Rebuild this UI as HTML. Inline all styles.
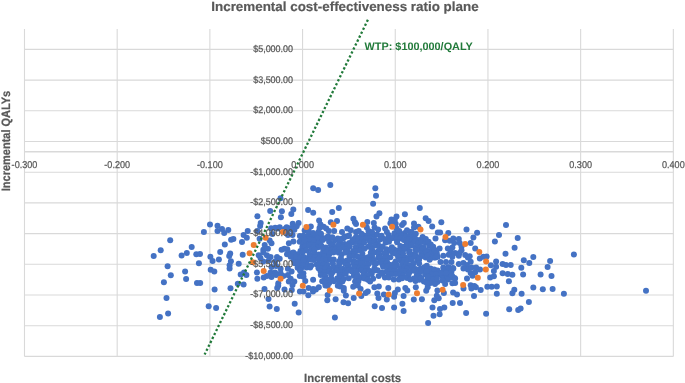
<!DOCTYPE html><html><head><meta charset="utf-8"><style>html,body{margin:0;padding:0;background:#fff;overflow:hidden}svg{display:block;will-change:transform;text-rendering:geometricPrecision}</style></head><body><svg width="685" height="383" viewBox="0 0 685 383">
<rect width="685" height="383" fill="#fff"/>
<line x1="24.50" y1="29.0" x2="24.50" y2="356.4" stroke="#D9D9D9" stroke-width="1.1"/>
<line x1="117.19" y1="29.0" x2="117.19" y2="356.4" stroke="#D9D9D9" stroke-width="1.1"/>
<line x1="209.88" y1="29.0" x2="209.88" y2="356.4" stroke="#D9D9D9" stroke-width="1.1"/>
<line x1="302.57" y1="29.0" x2="302.57" y2="356.4" stroke="#D9D9D9" stroke-width="1.1"/>
<line x1="395.26" y1="29.0" x2="395.26" y2="356.4" stroke="#D9D9D9" stroke-width="1.1"/>
<line x1="487.95" y1="29.0" x2="487.95" y2="356.4" stroke="#D9D9D9" stroke-width="1.1"/>
<line x1="580.64" y1="29.0" x2="580.64" y2="356.4" stroke="#D9D9D9" stroke-width="1.1"/>
<line x1="673.33" y1="29.0" x2="673.33" y2="356.4" stroke="#D9D9D9" stroke-width="1.1"/>
<line x1="24.5" y1="49.40" x2="673.33" y2="49.40" stroke="#D9D9D9" stroke-width="1.1"/>
<line x1="24.5" y1="80.10" x2="673.33" y2="80.10" stroke="#D9D9D9" stroke-width="1.1"/>
<line x1="24.5" y1="110.80" x2="673.33" y2="110.80" stroke="#D9D9D9" stroke-width="1.1"/>
<line x1="24.5" y1="141.50" x2="673.33" y2="141.50" stroke="#D9D9D9" stroke-width="1.1"/>
<line x1="24.5" y1="172.20" x2="673.33" y2="172.20" stroke="#D9D9D9" stroke-width="1.1"/>
<line x1="24.5" y1="202.90" x2="673.33" y2="202.90" stroke="#D9D9D9" stroke-width="1.1"/>
<line x1="24.5" y1="233.60" x2="673.33" y2="233.60" stroke="#D9D9D9" stroke-width="1.1"/>
<line x1="24.5" y1="264.30" x2="673.33" y2="264.30" stroke="#D9D9D9" stroke-width="1.1"/>
<line x1="24.5" y1="295.00" x2="673.33" y2="295.00" stroke="#D9D9D9" stroke-width="1.1"/>
<line x1="24.5" y1="325.70" x2="673.33" y2="325.70" stroke="#D9D9D9" stroke-width="1.1"/>
<line x1="24.5" y1="356.40" x2="673.33" y2="356.40" stroke="#D9D9D9" stroke-width="1.1"/>
<line x1="24.5" y1="151.73" x2="673.33" y2="151.73" stroke="#D9D9D9" stroke-width="1.7"/>
<g fill="#4472C4">
<circle cx="394.5" cy="233.3" r="3.0"/>
<circle cx="399.9" cy="233.2" r="3.0"/>
<circle cx="404.8" cy="232.9" r="3.0"/>
<circle cx="411.5" cy="232.3" r="3.0"/>
<circle cx="303.5" cy="235.8" r="3.0"/>
<circle cx="308.5" cy="235.6" r="3.0"/>
<circle cx="311.7" cy="235.7" r="3.0"/>
<circle cx="315.6" cy="235.8" r="3.0"/>
<circle cx="320.9" cy="236.2" r="3.0"/>
<circle cx="328.2" cy="236.8" r="3.0"/>
<circle cx="344.9" cy="236.4" r="3.0"/>
<circle cx="347.7" cy="236.2" r="3.0"/>
<circle cx="356.1" cy="236.8" r="3.0"/>
<circle cx="360.8" cy="236.9" r="3.0"/>
<circle cx="364.1" cy="235.5" r="3.0"/>
<circle cx="368.7" cy="235.0" r="3.0"/>
<circle cx="373.7" cy="234.5" r="3.0"/>
<circle cx="377.1" cy="234.5" r="3.0"/>
<circle cx="381.6" cy="235.7" r="3.0"/>
<circle cx="388.6" cy="235.1" r="3.0"/>
<circle cx="394.3" cy="235.2" r="3.0"/>
<circle cx="397.6" cy="236.7" r="3.0"/>
<circle cx="401.3" cy="234.9" r="3.0"/>
<circle cx="406.1" cy="236.2" r="3.0"/>
<circle cx="409.0" cy="236.2" r="3.0"/>
<circle cx="413.1" cy="236.8" r="3.0"/>
<circle cx="301.3" cy="240.3" r="3.0"/>
<circle cx="306.3" cy="239.1" r="3.0"/>
<circle cx="310.4" cy="239.0" r="3.0"/>
<circle cx="314.2" cy="240.4" r="3.0"/>
<circle cx="318.6" cy="239.8" r="3.0"/>
<circle cx="321.7" cy="238.9" r="3.0"/>
<circle cx="325.1" cy="238.2" r="3.0"/>
<circle cx="329.5" cy="238.5" r="3.0"/>
<circle cx="335.0" cy="240.2" r="3.0"/>
<circle cx="337.8" cy="238.6" r="3.0"/>
<circle cx="342.3" cy="238.4" r="3.0"/>
<circle cx="354.2" cy="238.9" r="3.0"/>
<circle cx="358.5" cy="239.2" r="3.0"/>
<circle cx="362.2" cy="239.3" r="3.0"/>
<circle cx="366.4" cy="238.3" r="3.0"/>
<circle cx="370.0" cy="238.1" r="3.0"/>
<circle cx="374.6" cy="239.5" r="3.0"/>
<circle cx="379.9" cy="239.6" r="3.0"/>
<circle cx="384.3" cy="239.0" r="3.0"/>
<circle cx="388.7" cy="238.4" r="3.0"/>
<circle cx="391.9" cy="238.2" r="3.0"/>
<circle cx="396.6" cy="239.6" r="3.0"/>
<circle cx="400.5" cy="238.4" r="3.0"/>
<circle cx="403.9" cy="240.1" r="3.0"/>
<circle cx="408.8" cy="239.5" r="3.0"/>
<circle cx="412.5" cy="239.7" r="3.0"/>
<circle cx="415.1" cy="238.4" r="3.0"/>
<circle cx="419.4" cy="240.1" r="3.0"/>
<circle cx="424.7" cy="239.6" r="3.0"/>
<circle cx="299.7" cy="241.8" r="3.0"/>
<circle cx="302.9" cy="243.4" r="3.0"/>
<circle cx="307.7" cy="241.7" r="3.0"/>
<circle cx="311.1" cy="243.2" r="3.0"/>
<circle cx="316.2" cy="242.3" r="3.0"/>
<circle cx="319.8" cy="242.8" r="3.0"/>
<circle cx="329.1" cy="241.7" r="3.0"/>
<circle cx="332.9" cy="244.0" r="3.0"/>
<circle cx="339.7" cy="243.0" r="3.0"/>
<circle cx="344.5" cy="243.9" r="3.0"/>
<circle cx="349.3" cy="242.9" r="3.0"/>
<circle cx="353.1" cy="242.2" r="3.0"/>
<circle cx="356.7" cy="241.7" r="3.0"/>
<circle cx="360.8" cy="242.7" r="3.0"/>
<circle cx="364.1" cy="242.5" r="3.0"/>
<circle cx="369.9" cy="241.6" r="3.0"/>
<circle cx="374.0" cy="241.9" r="3.0"/>
<circle cx="377.8" cy="243.8" r="3.0"/>
<circle cx="385.7" cy="242.5" r="3.0"/>
<circle cx="389.0" cy="241.8" r="3.0"/>
<circle cx="397.1" cy="242.3" r="3.0"/>
<circle cx="406.9" cy="243.6" r="3.0"/>
<circle cx="411.0" cy="243.9" r="3.0"/>
<circle cx="414.7" cy="241.8" r="3.0"/>
<circle cx="418.1" cy="243.4" r="3.0"/>
<circle cx="421.8" cy="241.8" r="3.0"/>
<circle cx="425.6" cy="242.8" r="3.0"/>
<circle cx="302.3" cy="247.0" r="3.0"/>
<circle cx="305.3" cy="246.5" r="3.0"/>
<circle cx="309.2" cy="245.4" r="3.0"/>
<circle cx="314.8" cy="245.5" r="3.0"/>
<circle cx="318.1" cy="247.3" r="3.0"/>
<circle cx="321.4" cy="245.8" r="3.0"/>
<circle cx="325.9" cy="247.5" r="3.0"/>
<circle cx="331.0" cy="245.3" r="3.0"/>
<circle cx="334.7" cy="247.4" r="3.0"/>
<circle cx="338.5" cy="245.2" r="3.0"/>
<circle cx="343.4" cy="247.2" r="3.0"/>
<circle cx="347.6" cy="245.8" r="3.0"/>
<circle cx="349.8" cy="246.5" r="3.0"/>
<circle cx="355.8" cy="246.9" r="3.0"/>
<circle cx="359.4" cy="246.3" r="3.0"/>
<circle cx="361.8" cy="247.1" r="3.0"/>
<circle cx="368.0" cy="246.8" r="3.0"/>
<circle cx="370.2" cy="245.8" r="3.0"/>
<circle cx="375.7" cy="245.5" r="3.0"/>
<circle cx="379.4" cy="246.6" r="3.0"/>
<circle cx="382.7" cy="246.6" r="3.0"/>
<circle cx="391.9" cy="247.3" r="3.0"/>
<circle cx="400.3" cy="245.9" r="3.0"/>
<circle cx="403.9" cy="246.8" r="3.0"/>
<circle cx="407.4" cy="246.8" r="3.0"/>
<circle cx="411.4" cy="245.3" r="3.0"/>
<circle cx="416.0" cy="246.8" r="3.0"/>
<circle cx="421.0" cy="247.0" r="3.0"/>
<circle cx="423.7" cy="247.5" r="3.0"/>
<circle cx="429.3" cy="245.8" r="3.0"/>
<circle cx="300.5" cy="251.0" r="3.0"/>
<circle cx="302.7" cy="251.0" r="3.0"/>
<circle cx="306.4" cy="250.4" r="3.0"/>
<circle cx="311.3" cy="249.6" r="3.0"/>
<circle cx="314.6" cy="249.4" r="3.0"/>
<circle cx="323.2" cy="249.6" r="3.0"/>
<circle cx="328.8" cy="249.8" r="3.0"/>
<circle cx="332.1" cy="249.7" r="3.0"/>
<circle cx="335.5" cy="249.6" r="3.0"/>
<circle cx="339.2" cy="249.8" r="3.0"/>
<circle cx="345.1" cy="248.9" r="3.0"/>
<circle cx="347.5" cy="251.0" r="3.0"/>
<circle cx="353.2" cy="250.9" r="3.0"/>
<circle cx="356.2" cy="251.1" r="3.0"/>
<circle cx="360.3" cy="250.5" r="3.0"/>
<circle cx="364.4" cy="248.8" r="3.0"/>
<circle cx="372.0" cy="249.3" r="3.0"/>
<circle cx="378.3" cy="251.1" r="3.0"/>
<circle cx="380.8" cy="249.8" r="3.0"/>
<circle cx="386.5" cy="249.2" r="3.0"/>
<circle cx="390.1" cy="250.7" r="3.0"/>
<circle cx="393.9" cy="249.6" r="3.0"/>
<circle cx="397.4" cy="250.6" r="3.0"/>
<circle cx="401.1" cy="250.6" r="3.0"/>
<circle cx="404.9" cy="248.9" r="3.0"/>
<circle cx="409.6" cy="251.1" r="3.0"/>
<circle cx="415.3" cy="249.4" r="3.0"/>
<circle cx="417.3" cy="250.0" r="3.0"/>
<circle cx="422.2" cy="249.3" r="3.0"/>
<circle cx="426.7" cy="250.4" r="3.0"/>
<circle cx="431.4" cy="250.4" r="3.0"/>
<circle cx="297.2" cy="254.3" r="3.0"/>
<circle cx="302.4" cy="252.4" r="3.0"/>
<circle cx="309.8" cy="254.6" r="3.0"/>
<circle cx="314.6" cy="253.4" r="3.0"/>
<circle cx="318.5" cy="254.6" r="3.0"/>
<circle cx="322.1" cy="253.8" r="3.0"/>
<circle cx="325.7" cy="252.7" r="3.0"/>
<circle cx="329.5" cy="253.8" r="3.0"/>
<circle cx="333.5" cy="252.4" r="3.0"/>
<circle cx="338.7" cy="252.8" r="3.0"/>
<circle cx="341.7" cy="254.2" r="3.0"/>
<circle cx="345.5" cy="252.6" r="3.0"/>
<circle cx="350.7" cy="253.9" r="3.0"/>
<circle cx="353.9" cy="254.0" r="3.0"/>
<circle cx="362.4" cy="253.7" r="3.0"/>
<circle cx="370.8" cy="252.8" r="3.0"/>
<circle cx="374.5" cy="252.4" r="3.0"/>
<circle cx="379.1" cy="254.3" r="3.0"/>
<circle cx="384.3" cy="253.4" r="3.0"/>
<circle cx="386.3" cy="253.7" r="3.0"/>
<circle cx="392.6" cy="252.5" r="3.0"/>
<circle cx="395.4" cy="253.5" r="3.0"/>
<circle cx="399.3" cy="253.6" r="3.0"/>
<circle cx="403.0" cy="253.5" r="3.0"/>
<circle cx="409.1" cy="252.8" r="3.0"/>
<circle cx="413.2" cy="254.7" r="3.0"/>
<circle cx="415.1" cy="254.6" r="3.0"/>
<circle cx="421.3" cy="253.8" r="3.0"/>
<circle cx="423.6" cy="254.2" r="3.0"/>
<circle cx="428.3" cy="254.4" r="3.0"/>
<circle cx="431.8" cy="252.9" r="3.0"/>
<circle cx="436.7" cy="253.3" r="3.0"/>
<circle cx="295.4" cy="256.9" r="3.0"/>
<circle cx="299.2" cy="257.0" r="3.0"/>
<circle cx="303.7" cy="257.1" r="3.0"/>
<circle cx="308.2" cy="257.8" r="3.0"/>
<circle cx="310.9" cy="257.0" r="3.0"/>
<circle cx="314.9" cy="256.9" r="3.0"/>
<circle cx="319.7" cy="257.1" r="3.0"/>
<circle cx="324.3" cy="256.1" r="3.0"/>
<circle cx="328.7" cy="257.1" r="3.0"/>
<circle cx="340.9" cy="257.9" r="3.0"/>
<circle cx="349.5" cy="256.3" r="3.0"/>
<circle cx="353.7" cy="256.1" r="3.0"/>
<circle cx="357.4" cy="256.3" r="3.0"/>
<circle cx="360.3" cy="257.9" r="3.0"/>
<circle cx="365.0" cy="258.1" r="3.0"/>
<circle cx="368.5" cy="257.1" r="3.0"/>
<circle cx="372.0" cy="256.3" r="3.0"/>
<circle cx="378.3" cy="257.5" r="3.0"/>
<circle cx="380.6" cy="257.8" r="3.0"/>
<circle cx="385.5" cy="257.4" r="3.0"/>
<circle cx="390.4" cy="257.2" r="3.0"/>
<circle cx="398.1" cy="256.8" r="3.0"/>
<circle cx="401.3" cy="258.3" r="3.0"/>
<circle cx="405.6" cy="257.7" r="3.0"/>
<circle cx="409.3" cy="257.7" r="3.0"/>
<circle cx="414.9" cy="256.5" r="3.0"/>
<circle cx="419.4" cy="257.3" r="3.0"/>
<circle cx="421.9" cy="255.9" r="3.0"/>
<circle cx="425.6" cy="257.4" r="3.0"/>
<circle cx="430.6" cy="258.1" r="3.0"/>
<circle cx="434.0" cy="257.5" r="3.0"/>
<circle cx="437.6" cy="256.8" r="3.0"/>
<circle cx="293.9" cy="260.4" r="3.0"/>
<circle cx="296.1" cy="261.0" r="3.0"/>
<circle cx="301.0" cy="261.0" r="3.0"/>
<circle cx="306.5" cy="261.2" r="3.0"/>
<circle cx="310.6" cy="259.6" r="3.0"/>
<circle cx="313.5" cy="260.0" r="3.0"/>
<circle cx="318.5" cy="259.5" r="3.0"/>
<circle cx="323.0" cy="259.8" r="3.0"/>
<circle cx="326.3" cy="260.7" r="3.0"/>
<circle cx="330.9" cy="259.9" r="3.0"/>
<circle cx="333.7" cy="259.6" r="3.0"/>
<circle cx="339.0" cy="261.2" r="3.0"/>
<circle cx="343.2" cy="261.3" r="3.0"/>
<circle cx="347.1" cy="260.6" r="3.0"/>
<circle cx="349.7" cy="260.0" r="3.0"/>
<circle cx="354.3" cy="261.3" r="3.0"/>
<circle cx="359.6" cy="261.2" r="3.0"/>
<circle cx="363.0" cy="260.5" r="3.0"/>
<circle cx="367.1" cy="260.1" r="3.0"/>
<circle cx="372.2" cy="260.0" r="3.0"/>
<circle cx="374.0" cy="260.1" r="3.0"/>
<circle cx="379.9" cy="261.7" r="3.0"/>
<circle cx="383.0" cy="261.6" r="3.0"/>
<circle cx="386.9" cy="261.6" r="3.0"/>
<circle cx="395.6" cy="261.5" r="3.0"/>
<circle cx="400.7" cy="260.5" r="3.0"/>
<circle cx="404.1" cy="260.2" r="3.0"/>
<circle cx="408.3" cy="259.7" r="3.0"/>
<circle cx="411.2" cy="259.5" r="3.0"/>
<circle cx="417.2" cy="260.3" r="3.0"/>
<circle cx="419.2" cy="259.6" r="3.0"/>
<circle cx="294.7" cy="263.3" r="3.0"/>
<circle cx="300.0" cy="263.5" r="3.0"/>
<circle cx="303.3" cy="263.1" r="3.0"/>
<circle cx="307.0" cy="264.8" r="3.0"/>
<circle cx="311.2" cy="265.4" r="3.0"/>
<circle cx="316.6" cy="264.5" r="3.0"/>
<circle cx="319.6" cy="264.1" r="3.0"/>
<circle cx="323.6" cy="264.7" r="3.0"/>
<circle cx="327.4" cy="265.1" r="3.0"/>
<circle cx="332.9" cy="263.4" r="3.0"/>
<circle cx="339.2" cy="264.2" r="3.0"/>
<circle cx="345.2" cy="263.5" r="3.0"/>
<circle cx="348.2" cy="265.0" r="3.0"/>
<circle cx="353.7" cy="263.7" r="3.0"/>
<circle cx="357.2" cy="264.2" r="3.0"/>
<circle cx="361.2" cy="263.2" r="3.0"/>
<circle cx="365.4" cy="264.9" r="3.0"/>
<circle cx="368.7" cy="264.0" r="3.0"/>
<circle cx="374.1" cy="263.2" r="3.0"/>
<circle cx="376.1" cy="263.5" r="3.0"/>
<circle cx="382.3" cy="264.2" r="3.0"/>
<circle cx="386.4" cy="263.6" r="3.0"/>
<circle cx="389.6" cy="264.8" r="3.0"/>
<circle cx="394.0" cy="263.9" r="3.0"/>
<circle cx="396.9" cy="265.1" r="3.0"/>
<circle cx="402.4" cy="263.4" r="3.0"/>
<circle cx="406.6" cy="264.4" r="3.0"/>
<circle cx="410.0" cy="265.2" r="3.0"/>
<circle cx="413.4" cy="263.8" r="3.0"/>
<circle cx="419.1" cy="263.4" r="3.0"/>
<circle cx="297.6" cy="267.7" r="3.0"/>
<circle cx="301.6" cy="267.6" r="3.0"/>
<circle cx="306.5" cy="267.6" r="3.0"/>
<circle cx="310.2" cy="267.6" r="3.0"/>
<circle cx="318.5" cy="268.3" r="3.0"/>
<circle cx="322.3" cy="268.1" r="3.0"/>
<circle cx="325.6" cy="268.1" r="3.0"/>
<circle cx="329.9" cy="268.5" r="3.0"/>
<circle cx="334.5" cy="267.2" r="3.0"/>
<circle cx="338.2" cy="268.1" r="3.0"/>
<circle cx="342.8" cy="268.8" r="3.0"/>
<circle cx="346.9" cy="268.5" r="3.0"/>
<circle cx="350.6" cy="268.9" r="3.0"/>
<circle cx="354.8" cy="267.0" r="3.0"/>
<circle cx="359.9" cy="267.9" r="3.0"/>
<circle cx="363.1" cy="267.9" r="3.0"/>
<circle cx="367.0" cy="268.1" r="3.0"/>
<circle cx="374.5" cy="268.2" r="3.0"/>
<circle cx="383.1" cy="266.7" r="3.0"/>
<circle cx="387.3" cy="266.6" r="3.0"/>
<circle cx="391.4" cy="268.3" r="3.0"/>
<circle cx="395.1" cy="267.1" r="3.0"/>
<circle cx="400.9" cy="267.9" r="3.0"/>
<circle cx="404.6" cy="267.5" r="3.0"/>
<circle cx="407.1" cy="268.5" r="3.0"/>
<circle cx="412.4" cy="267.7" r="3.0"/>
<circle cx="415.5" cy="268.9" r="3.0"/>
<circle cx="420.6" cy="268.6" r="3.0"/>
<circle cx="424.3" cy="267.3" r="3.0"/>
<circle cx="427.6" cy="268.6" r="3.0"/>
<circle cx="443.7" cy="268.3" r="3.0"/>
<circle cx="448.4" cy="267.3" r="3.0"/>
<circle cx="452.9" cy="268.1" r="3.0"/>
<circle cx="320.5" cy="271.0" r="3.0"/>
<circle cx="324.9" cy="272.1" r="3.0"/>
<circle cx="329.0" cy="271.6" r="3.0"/>
<circle cx="332.6" cy="272.3" r="3.0"/>
<circle cx="337.1" cy="270.6" r="3.0"/>
<circle cx="340.4" cy="272.0" r="3.0"/>
<circle cx="345.4" cy="271.5" r="3.0"/>
<circle cx="347.9" cy="270.5" r="3.0"/>
<circle cx="351.6" cy="271.3" r="3.0"/>
<circle cx="356.7" cy="271.4" r="3.0"/>
<circle cx="361.7" cy="270.2" r="3.0"/>
<circle cx="364.9" cy="271.5" r="3.0"/>
<circle cx="369.9" cy="271.1" r="3.0"/>
<circle cx="374.3" cy="270.4" r="3.0"/>
<circle cx="377.6" cy="270.2" r="3.0"/>
<circle cx="381.8" cy="272.4" r="3.0"/>
<circle cx="386.6" cy="271.4" r="3.0"/>
<circle cx="390.5" cy="270.3" r="3.0"/>
<circle cx="394.0" cy="271.0" r="3.0"/>
<circle cx="397.4" cy="271.3" r="3.0"/>
<circle cx="402.5" cy="270.7" r="3.0"/>
<circle cx="405.8" cy="271.5" r="3.0"/>
<circle cx="409.6" cy="272.2" r="3.0"/>
<circle cx="414.2" cy="270.8" r="3.0"/>
<circle cx="419.4" cy="271.7" r="3.0"/>
<circle cx="421.9" cy="270.9" r="3.0"/>
<circle cx="426.7" cy="271.7" r="3.0"/>
<circle cx="429.4" cy="271.9" r="3.0"/>
<circle cx="434.8" cy="270.3" r="3.0"/>
<circle cx="437.6" cy="270.6" r="3.0"/>
<circle cx="443.1" cy="271.8" r="3.0"/>
<circle cx="447.9" cy="271.6" r="3.0"/>
<circle cx="451.4" cy="271.8" r="3.0"/>
<circle cx="320.8" cy="275.1" r="3.0"/>
<circle cx="325.1" cy="275.7" r="3.0"/>
<circle cx="331.1" cy="274.8" r="3.0"/>
<circle cx="339.5" cy="274.9" r="3.0"/>
<circle cx="341.4" cy="275.3" r="3.0"/>
<circle cx="345.7" cy="273.8" r="3.0"/>
<circle cx="353.7" cy="275.8" r="3.0"/>
<circle cx="357.6" cy="275.5" r="3.0"/>
<circle cx="363.5" cy="274.2" r="3.0"/>
<circle cx="367.7" cy="275.5" r="3.0"/>
<circle cx="371.7" cy="273.9" r="3.0"/>
<circle cx="378.7" cy="276.1" r="3.0"/>
<circle cx="382.2" cy="273.8" r="3.0"/>
<circle cx="388.3" cy="273.9" r="3.0"/>
<circle cx="392.2" cy="274.1" r="3.0"/>
<circle cx="395.7" cy="273.9" r="3.0"/>
<circle cx="400.0" cy="274.8" r="3.0"/>
<circle cx="403.0" cy="275.7" r="3.0"/>
<circle cx="408.3" cy="275.2" r="3.0"/>
<circle cx="416.9" cy="275.1" r="3.0"/>
<circle cx="419.2" cy="276.1" r="3.0"/>
<circle cx="425.2" cy="274.5" r="3.0"/>
<circle cx="429.6" cy="275.7" r="3.0"/>
<circle cx="432.1" cy="274.8" r="3.0"/>
<circle cx="436.4" cy="275.4" r="3.0"/>
<circle cx="441.8" cy="275.7" r="3.0"/>
<circle cx="443.7" cy="274.4" r="3.0"/>
<circle cx="449.2" cy="275.7" r="3.0"/>
<circle cx="452.0" cy="275.7" r="3.0"/>
<circle cx="324.6" cy="279.2" r="3.0"/>
<circle cx="327.1" cy="279.2" r="3.0"/>
<circle cx="331.5" cy="278.7" r="3.0"/>
<circle cx="337.2" cy="278.6" r="3.0"/>
<circle cx="340.6" cy="277.8" r="3.0"/>
<circle cx="343.7" cy="279.0" r="3.0"/>
<circle cx="348.7" cy="278.3" r="3.0"/>
<circle cx="356.4" cy="277.6" r="3.0"/>
<circle cx="361.5" cy="277.7" r="3.0"/>
<circle cx="364.6" cy="278.6" r="3.0"/>
<circle cx="367.9" cy="279.7" r="3.0"/>
<circle cx="373.1" cy="278.7" r="3.0"/>
<circle cx="384.9" cy="277.4" r="3.0"/>
<circle cx="388.8" cy="277.5" r="3.0"/>
<circle cx="393.8" cy="279.4" r="3.0"/>
<circle cx="398.8" cy="279.5" r="3.0"/>
<circle cx="402.1" cy="278.3" r="3.0"/>
<circle cx="407.1" cy="277.9" r="3.0"/>
<circle cx="410.4" cy="279.6" r="3.0"/>
<circle cx="413.9" cy="278.4" r="3.0"/>
<circle cx="419.4" cy="279.7" r="3.0"/>
<circle cx="421.2" cy="277.9" r="3.0"/>
<circle cx="427.4" cy="279.5" r="3.0"/>
<circle cx="429.5" cy="279.2" r="3.0"/>
<circle cx="435.0" cy="279.7" r="3.0"/>
<circle cx="443.3" cy="278.0" r="3.0"/>
<circle cx="447.6" cy="277.6" r="3.0"/>
<circle cx="450.5" cy="277.6" r="3.0"/>
<circle cx="454.4" cy="277.9" r="3.0"/>
<circle cx="322.2" cy="281.2" r="3.0"/>
<circle cx="324.9" cy="282.6" r="3.0"/>
<circle cx="329.2" cy="283.0" r="3.0"/>
<circle cx="334.0" cy="281.2" r="3.0"/>
<circle cx="339.1" cy="281.7" r="3.0"/>
<circle cx="342.4" cy="281.6" r="3.0"/>
<circle cx="355.1" cy="281.4" r="3.0"/>
<circle cx="358.3" cy="281.5" r="3.0"/>
<circle cx="370.1" cy="281.6" r="3.0"/>
<circle cx="415.5" cy="281.1" r="3.0"/>
<circle cx="423.9" cy="281.4" r="3.0"/>
<circle cx="432.8" cy="281.4" r="3.0"/>
<circle cx="437.3" cy="281.9" r="3.0"/>
<circle cx="170.2" cy="240.2" r="3.0"/>
<circle cx="160.7" cy="250.2" r="3.0"/>
<circle cx="153.7" cy="256.1" r="3.0"/>
<circle cx="181.6" cy="255.5" r="3.0"/>
<circle cx="186.8" cy="253.1" r="3.0"/>
<circle cx="191.7" cy="247.0" r="3.0"/>
<circle cx="167.6" cy="266.2" r="3.0"/>
<circle cx="170.8" cy="275.2" r="3.0"/>
<circle cx="185.1" cy="271.5" r="3.0"/>
<circle cx="186.1" cy="279.1" r="3.0"/>
<circle cx="163.9" cy="282.3" r="3.0"/>
<circle cx="166.5" cy="297.9" r="3.0"/>
<circle cx="168.1" cy="313.4" r="3.0"/>
<circle cx="159.9" cy="316.9" r="3.0"/>
<circle cx="210.0" cy="224.4" r="3.0"/>
<circle cx="217.5" cy="225.7" r="3.0"/>
<circle cx="203.9" cy="232.1" r="3.0"/>
<circle cx="217.5" cy="231.1" r="3.0"/>
<circle cx="222.0" cy="229.1" r="3.0"/>
<circle cx="224.2" cy="232.9" r="3.0"/>
<circle cx="228.3" cy="229.9" r="3.0"/>
<circle cx="231.1" cy="239.7" r="3.0"/>
<circle cx="233.4" cy="238.9" r="3.0"/>
<circle cx="224.8" cy="244.4" r="3.0"/>
<circle cx="243.6" cy="235.0" r="3.0"/>
<circle cx="242.0" cy="242.0" r="3.0"/>
<circle cx="196.3" cy="254.2" r="3.0"/>
<circle cx="200.0" cy="253.9" r="3.0"/>
<circle cx="220.2" cy="251.9" r="3.0"/>
<circle cx="230.2" cy="253.5" r="3.0"/>
<circle cx="229.2" cy="256.1" r="3.0"/>
<circle cx="242.7" cy="254.8" r="3.0"/>
<circle cx="210.4" cy="256.8" r="3.0"/>
<circle cx="212.6" cy="261.1" r="3.0"/>
<circle cx="218.9" cy="259.4" r="3.0"/>
<circle cx="198.9" cy="263.3" r="3.0"/>
<circle cx="230.9" cy="261.3" r="3.0"/>
<circle cx="229.6" cy="265.2" r="3.0"/>
<circle cx="229.6" cy="268.5" r="3.0"/>
<circle cx="238.7" cy="263.7" r="3.0"/>
<circle cx="210.7" cy="269.8" r="3.0"/>
<circle cx="214.3" cy="271.5" r="3.0"/>
<circle cx="240.7" cy="274.4" r="3.0"/>
<circle cx="244.0" cy="272.4" r="3.0"/>
<circle cx="197.0" cy="283.1" r="3.0"/>
<circle cx="200.2" cy="283.1" r="3.0"/>
<circle cx="214.6" cy="289.6" r="3.0"/>
<circle cx="230.5" cy="288.3" r="3.0"/>
<circle cx="237.8" cy="283.7" r="3.0"/>
<circle cx="243.6" cy="284.6" r="3.0"/>
<circle cx="208.7" cy="306.3" r="3.0"/>
<circle cx="216.1" cy="307.9" r="3.0"/>
<circle cx="280.5" cy="198.3" r="3.0"/>
<circle cx="270.2" cy="210.9" r="3.0"/>
<circle cx="281.9" cy="211.3" r="3.0"/>
<circle cx="280.9" cy="217.2" r="3.0"/>
<circle cx="257.4" cy="216.3" r="3.0"/>
<circle cx="260.7" cy="223.1" r="3.0"/>
<circle cx="291.3" cy="213.9" r="3.0"/>
<circle cx="293.3" cy="209.4" r="3.0"/>
<circle cx="292.7" cy="223.7" r="3.0"/>
<circle cx="271.1" cy="228.3" r="3.0"/>
<circle cx="277.6" cy="228.6" r="3.0"/>
<circle cx="284.8" cy="229.0" r="3.0"/>
<circle cx="289.4" cy="228.3" r="3.0"/>
<circle cx="313.2" cy="188.3" r="3.0"/>
<circle cx="318.1" cy="189.9" r="3.0"/>
<circle cx="330.3" cy="185.1" r="3.0"/>
<circle cx="375.3" cy="188.3" r="3.0"/>
<circle cx="376.0" cy="195.8" r="3.0"/>
<circle cx="373.1" cy="203.8" r="3.0"/>
<circle cx="308.1" cy="209.9" r="3.0"/>
<circle cx="313.2" cy="212.8" r="3.0"/>
<circle cx="332.2" cy="212.1" r="3.0"/>
<circle cx="338.8" cy="208.0" r="3.0"/>
<circle cx="379.4" cy="213.3" r="3.0"/>
<circle cx="376.5" cy="216.5" r="3.0"/>
<circle cx="298.6" cy="223.1" r="3.0"/>
<circle cx="319.1" cy="220.6" r="3.0"/>
<circle cx="320.5" cy="224.5" r="3.0"/>
<circle cx="330.8" cy="222.3" r="3.0"/>
<circle cx="337.0" cy="220.9" r="3.0"/>
<circle cx="353.4" cy="218.7" r="3.0"/>
<circle cx="354.9" cy="222.3" r="3.0"/>
<circle cx="367.3" cy="222.0" r="3.0"/>
<circle cx="373.8" cy="223.1" r="3.0"/>
<circle cx="391.4" cy="219.4" r="3.0"/>
<circle cx="419.8" cy="208.0" r="3.0"/>
<circle cx="404.9" cy="214.3" r="3.0"/>
<circle cx="396.5" cy="216.5" r="3.0"/>
<circle cx="425.7" cy="218.2" r="3.0"/>
<circle cx="428.6" cy="220.9" r="3.0"/>
<circle cx="403.8" cy="223.1" r="3.0"/>
<circle cx="402.0" cy="225.0" r="3.0"/>
<circle cx="414.0" cy="223.5" r="3.0"/>
<circle cx="418.4" cy="226.7" r="3.0"/>
<circle cx="432.2" cy="226.4" r="3.0"/>
<circle cx="441.3" cy="222.3" r="3.0"/>
<circle cx="466.5" cy="229.6" r="3.0"/>
<circle cx="395.7" cy="223.8" r="3.0"/>
<circle cx="506.0" cy="224.9" r="3.0"/>
<circle cx="499.0" cy="235.1" r="3.0"/>
<circle cx="494.9" cy="241.6" r="3.0"/>
<circle cx="517.7" cy="237.9" r="3.0"/>
<circle cx="514.6" cy="247.8" r="3.0"/>
<circle cx="505.5" cy="253.7" r="3.0"/>
<circle cx="533.3" cy="257.0" r="3.0"/>
<circle cx="523.8" cy="260.3" r="3.0"/>
<circle cx="529.3" cy="262.9" r="3.0"/>
<circle cx="550.1" cy="261.0" r="3.0"/>
<circle cx="573.9" cy="254.4" r="3.0"/>
<circle cx="486.6" cy="256.6" r="3.0"/>
<circle cx="496.1" cy="261.4" r="3.0"/>
<circle cx="547.6" cy="267.0" r="3.0"/>
<circle cx="521.3" cy="267.7" r="3.0"/>
<circle cx="523.1" cy="274.4" r="3.0"/>
<circle cx="540.6" cy="274.4" r="3.0"/>
<circle cx="551.5" cy="275.9" r="3.0"/>
<circle cx="502.6" cy="264.1" r="3.0"/>
<circle cx="506.0" cy="264.9" r="3.0"/>
<circle cx="510.7" cy="264.9" r="3.0"/>
<circle cx="490.9" cy="265.2" r="3.0"/>
<circle cx="496.1" cy="266.7" r="3.0"/>
<circle cx="493.9" cy="271.1" r="3.0"/>
<circle cx="502.6" cy="273.2" r="3.0"/>
<circle cx="507.7" cy="274.0" r="3.0"/>
<circle cx="512.4" cy="274.7" r="3.0"/>
<circle cx="490.2" cy="277.6" r="3.0"/>
<circle cx="493.9" cy="276.2" r="3.0"/>
<circle cx="508.9" cy="281.3" r="3.0"/>
<circle cx="480.0" cy="269.6" r="3.0"/>
<circle cx="487.3" cy="286.8" r="3.0"/>
<circle cx="491.7" cy="286.8" r="3.0"/>
<circle cx="496.8" cy="286.4" r="3.0"/>
<circle cx="480.7" cy="290.0" r="3.0"/>
<circle cx="496.8" cy="293.7" r="3.0"/>
<circle cx="514.3" cy="289.7" r="3.0"/>
<circle cx="512.4" cy="293.2" r="3.0"/>
<circle cx="521.6" cy="293.7" r="3.0"/>
<circle cx="533.3" cy="287.4" r="3.0"/>
<circle cx="542.8" cy="289.3" r="3.0"/>
<circle cx="552.6" cy="288.9" r="3.0"/>
<circle cx="563.9" cy="293.7" r="3.0"/>
<circle cx="528.9" cy="302.0" r="3.0"/>
<circle cx="509.2" cy="309.2" r="3.0"/>
<circle cx="518.2" cy="309.9" r="3.0"/>
<circle cx="520.6" cy="308.4" r="3.0"/>
<circle cx="486.1" cy="313.7" r="3.0"/>
<circle cx="646.0" cy="290.8" r="3.0"/>
<circle cx="264.5" cy="289.1" r="3.0"/>
<circle cx="277.2" cy="287.9" r="3.0"/>
<circle cx="278.2" cy="285.7" r="3.0"/>
<circle cx="284.5" cy="289.4" r="3.0"/>
<circle cx="291.8" cy="290.1" r="3.0"/>
<circle cx="299.9" cy="291.6" r="3.0"/>
<circle cx="303.5" cy="291.6" r="3.0"/>
<circle cx="308.6" cy="287.9" r="3.0"/>
<circle cx="308.3" cy="295.2" r="3.0"/>
<circle cx="313.0" cy="291.6" r="3.0"/>
<circle cx="315.9" cy="289.4" r="3.0"/>
<circle cx="318.8" cy="287.2" r="3.0"/>
<circle cx="327.6" cy="285.7" r="3.0"/>
<circle cx="327.6" cy="294.9" r="3.0"/>
<circle cx="327.3" cy="300.3" r="3.0"/>
<circle cx="335.6" cy="299.3" r="3.0"/>
<circle cx="337.8" cy="285.7" r="3.0"/>
<circle cx="268.5" cy="298.9" r="3.0"/>
<circle cx="269.6" cy="306.6" r="3.0"/>
<circle cx="276.8" cy="309.1" r="3.0"/>
<circle cx="294.7" cy="303.7" r="3.0"/>
<circle cx="298.7" cy="312.4" r="3.0"/>
<circle cx="334.9" cy="317.4" r="3.0"/>
<circle cx="343.8" cy="290.8" r="3.0"/>
<circle cx="345.9" cy="295.5" r="3.0"/>
<circle cx="343.5" cy="302.2" r="3.0"/>
<circle cx="348.1" cy="303.2" r="3.0"/>
<circle cx="353.7" cy="298.1" r="3.0"/>
<circle cx="353.2" cy="286.8" r="3.0"/>
<circle cx="361.3" cy="295.9" r="3.0"/>
<circle cx="365.7" cy="293.0" r="3.0"/>
<circle cx="367.8" cy="291.6" r="3.0"/>
<circle cx="374.4" cy="287.2" r="3.0"/>
<circle cx="378.8" cy="286.5" r="3.0"/>
<circle cx="377.3" cy="293.5" r="3.0"/>
<circle cx="378.5" cy="298.1" r="3.0"/>
<circle cx="374.7" cy="306.2" r="3.0"/>
<circle cx="382.0" cy="308.1" r="3.0"/>
<circle cx="383.9" cy="294.5" r="3.0"/>
<circle cx="386.8" cy="299.6" r="3.0"/>
<circle cx="388.3" cy="287.9" r="3.0"/>
<circle cx="394.1" cy="296.7" r="3.0"/>
<circle cx="394.9" cy="293.0" r="3.0"/>
<circle cx="397.8" cy="289.4" r="3.0"/>
<circle cx="394.1" cy="307.6" r="3.0"/>
<circle cx="403.6" cy="295.9" r="3.0"/>
<circle cx="402.4" cy="303.7" r="3.0"/>
<circle cx="403.6" cy="311.0" r="3.0"/>
<circle cx="407.3" cy="290.5" r="3.0"/>
<circle cx="413.8" cy="299.6" r="3.0"/>
<circle cx="421.9" cy="299.3" r="3.0"/>
<circle cx="426.2" cy="290.8" r="3.0"/>
<circle cx="427.7" cy="287.2" r="3.0"/>
<circle cx="432.5" cy="307.6" r="3.0"/>
<circle cx="433.5" cy="315.7" r="3.0"/>
<circle cx="428.1" cy="323.0" r="3.0"/>
<circle cx="434.3" cy="300.3" r="3.0"/>
<circle cx="439.6" cy="314.2" r="3.0"/>
<circle cx="440.0" cy="309.0" r="3.0"/>
<circle cx="444.3" cy="307.4" r="3.0"/>
<circle cx="438.7" cy="298.3" r="3.0"/>
<circle cx="436.8" cy="295.7" r="3.0"/>
<circle cx="437.4" cy="290.4" r="3.0"/>
<circle cx="443.9" cy="293.1" r="3.0"/>
<circle cx="452.4" cy="283.3" r="3.0"/>
<circle cx="453.1" cy="292.4" r="3.0"/>
<circle cx="457.0" cy="294.6" r="3.0"/>
<circle cx="452.7" cy="302.9" r="3.0"/>
<circle cx="460.0" cy="302.9" r="3.0"/>
<circle cx="466.1" cy="312.9" r="3.0"/>
<circle cx="474.0" cy="295.9" r="3.0"/>
<circle cx="463.5" cy="288.5" r="3.0"/>
<circle cx="470.7" cy="285.2" r="3.0"/>
<circle cx="471.4" cy="288.5" r="3.0"/>
<circle cx="475.9" cy="287.2" r="3.0"/>
<circle cx="247.7" cy="230.9" r="3.0"/>
<circle cx="246.8" cy="237.8" r="3.0"/>
<circle cx="260.1" cy="225.9" r="3.0"/>
<circle cx="257.3" cy="230.9" r="3.0"/>
<circle cx="275.2" cy="227.7" r="3.0"/>
<circle cx="279.7" cy="227.3" r="3.0"/>
<circle cx="286.6" cy="227.3" r="3.0"/>
<circle cx="293.4" cy="226.8" r="3.0"/>
<circle cx="272.4" cy="234.1" r="3.0"/>
<circle cx="259.6" cy="238.7" r="3.0"/>
<circle cx="269.7" cy="240.5" r="3.0"/>
<circle cx="271.5" cy="243.3" r="3.0"/>
<circle cx="264.7" cy="245.1" r="3.0"/>
<circle cx="263.3" cy="249.7" r="3.0"/>
<circle cx="267.9" cy="248.8" r="3.0"/>
<circle cx="288.9" cy="243.3" r="3.0"/>
<circle cx="281.6" cy="249.7" r="3.0"/>
<circle cx="284.3" cy="248.8" r="3.0"/>
<circle cx="287.0" cy="254.3" r="3.0"/>
<circle cx="290.7" cy="253.3" r="3.0"/>
<circle cx="293.4" cy="252.4" r="3.0"/>
<circle cx="293.4" cy="241.5" r="3.0"/>
<circle cx="288.0" cy="235.1" r="3.0"/>
<circle cx="292.5" cy="235.1" r="3.0"/>
<circle cx="258.7" cy="255.2" r="3.0"/>
<circle cx="260.5" cy="257.9" r="3.0"/>
<circle cx="266.9" cy="255.2" r="3.0"/>
<circle cx="270.6" cy="257.0" r="3.0"/>
<circle cx="277.0" cy="257.0" r="3.0"/>
<circle cx="263.3" cy="252.4" r="3.0"/>
<circle cx="437.8" cy="232.5" r="3.0"/>
<circle cx="440.1" cy="232.5" r="3.0"/>
<circle cx="448.3" cy="233.0" r="3.0"/>
<circle cx="435.5" cy="238.4" r="3.0"/>
<circle cx="477.1" cy="232.8" r="3.0"/>
<circle cx="473.4" cy="237.5" r="3.0"/>
<circle cx="470.7" cy="243.0" r="3.0"/>
<circle cx="475.2" cy="248.5" r="3.0"/>
<circle cx="453.3" cy="238.4" r="3.0"/>
<circle cx="458.8" cy="238.9" r="3.0"/>
<circle cx="445.1" cy="240.3" r="3.0"/>
<circle cx="449.7" cy="240.7" r="3.0"/>
<circle cx="454.2" cy="243.0" r="3.0"/>
<circle cx="459.7" cy="243.0" r="3.0"/>
<circle cx="461.5" cy="246.7" r="3.0"/>
<circle cx="447.8" cy="248.5" r="3.0"/>
<circle cx="452.4" cy="247.6" r="3.0"/>
<circle cx="450.6" cy="251.2" r="3.0"/>
<circle cx="461.5" cy="250.3" r="3.0"/>
<circle cx="459.7" cy="253.1" r="3.0"/>
<circle cx="439.6" cy="248.5" r="3.0"/>
<circle cx="455.1" cy="253.1" r="3.0"/>
<circle cx="452.4" cy="254.0" r="3.0"/>
<circle cx="465.2" cy="254.9" r="3.0"/>
<circle cx="469.7" cy="256.2" r="3.0"/>
<circle cx="426.8" cy="252.1" r="3.0"/>
<circle cx="430.5" cy="254.0" r="3.0"/>
<circle cx="434.1" cy="253.1" r="3.0"/>
<circle cx="427.7" cy="255.7" r="3.0"/>
<circle cx="432.3" cy="256.7" r="3.0"/>
<circle cx="435.5" cy="257.6" r="3.0"/>
<circle cx="429.6" cy="259.8" r="3.0"/>
<circle cx="443.3" cy="255.7" r="3.0"/>
<circle cx="448.7" cy="254.8" r="3.0"/>
<circle cx="452.4" cy="256.7" r="3.0"/>
<circle cx="440.5" cy="262.1" r="3.0"/>
<circle cx="446.0" cy="262.1" r="3.0"/>
<circle cx="451.5" cy="262.1" r="3.0"/>
<circle cx="443.3" cy="267.6" r="3.0"/>
<circle cx="448.7" cy="267.6" r="3.0"/>
<circle cx="453.3" cy="268.5" r="3.0"/>
<circle cx="440.5" cy="273.1" r="3.0"/>
<circle cx="446.0" cy="273.1" r="3.0"/>
<circle cx="451.5" cy="275.8" r="3.0"/>
<circle cx="455.1" cy="278.6" r="3.0"/>
<circle cx="447.8" cy="279.5" r="3.0"/>
<circle cx="442.4" cy="280.4" r="3.0"/>
<circle cx="445.1" cy="284.1" r="3.0"/>
<circle cx="455.1" cy="283.1" r="3.0"/>
<circle cx="458.8" cy="255.7" r="3.0"/>
<circle cx="467.9" cy="257.6" r="3.0"/>
<circle cx="458.8" cy="264.0" r="3.0"/>
<circle cx="463.4" cy="263.0" r="3.0"/>
<circle cx="467.0" cy="264.9" r="3.0"/>
<circle cx="463.4" cy="268.5" r="3.0"/>
<circle cx="467.9" cy="269.4" r="3.0"/>
<circle cx="470.7" cy="261.7" r="3.0"/>
<circle cx="479.8" cy="258.5" r="3.0"/>
<circle cx="483.4" cy="256.7" r="3.0"/>
<circle cx="471.6" cy="267.6" r="3.0"/>
<circle cx="476.1" cy="267.6" r="3.0"/>
<circle cx="470.7" cy="273.1" r="3.0"/>
<circle cx="475.2" cy="272.2" r="3.0"/>
<circle cx="467.0" cy="278.6" r="3.0"/>
<circle cx="472.5" cy="275.8" r="3.0"/>
<circle cx="426.8" cy="265.8" r="3.0"/>
<circle cx="430.5" cy="268.5" r="3.0"/>
<circle cx="434.1" cy="269.4" r="3.0"/>
<circle cx="426.8" cy="271.3" r="3.0"/>
<circle cx="432.3" cy="274.0" r="3.0"/>
<circle cx="436.0" cy="274.0" r="3.0"/>
<circle cx="427.7" cy="276.7" r="3.0"/>
<circle cx="433.2" cy="279.5" r="3.0"/>
<circle cx="436.9" cy="278.6" r="3.0"/>
<circle cx="430.5" cy="283.1" r="3.0"/>
<circle cx="435.0" cy="284.1" r="3.0"/>
<circle cx="426.8" cy="283.1" r="3.0"/>
<circle cx="474.3" cy="285.9" r="3.0"/>
<circle cx="279.7" cy="258.7" r="3.0"/>
<circle cx="263.3" cy="261.4" r="3.0"/>
<circle cx="268.7" cy="260.5" r="3.0"/>
<circle cx="275.1" cy="261.4" r="3.0"/>
<circle cx="290.7" cy="256.8" r="3.0"/>
<circle cx="296.1" cy="256.8" r="3.0"/>
<circle cx="300.7" cy="257.7" r="3.0"/>
<circle cx="303.4" cy="260.5" r="3.0"/>
<circle cx="298.0" cy="262.3" r="3.0"/>
<circle cx="302.5" cy="265.0" r="3.0"/>
<circle cx="271.5" cy="266.9" r="3.0"/>
<circle cx="276.1" cy="266.0" r="3.0"/>
<circle cx="280.6" cy="268.7" r="3.0"/>
<circle cx="270.6" cy="272.4" r="3.0"/>
<circle cx="275.1" cy="272.4" r="3.0"/>
<circle cx="280.6" cy="273.3" r="3.0"/>
<circle cx="283.4" cy="276.0" r="3.0"/>
<circle cx="266.9" cy="276.0" r="3.0"/>
<circle cx="271.5" cy="276.9" r="3.0"/>
<circle cx="276.1" cy="275.1" r="3.0"/>
<circle cx="287.9" cy="268.7" r="3.0"/>
<circle cx="291.6" cy="271.4" r="3.0"/>
<circle cx="287.9" cy="275.1" r="3.0"/>
<circle cx="290.7" cy="278.7" r="3.0"/>
<circle cx="294.3" cy="281.5" r="3.0"/>
<circle cx="288.8" cy="281.5" r="3.0"/>
<circle cx="292.5" cy="285.1" r="3.0"/>
<circle cx="300.7" cy="268.7" r="3.0"/>
<circle cx="303.4" cy="273.3" r="3.0"/>
<circle cx="299.8" cy="276.0" r="3.0"/>
<circle cx="256.9" cy="272.4" r="3.0"/>
<circle cx="257.3" cy="278.7" r="3.0"/>
<circle cx="263.7" cy="277.4" r="3.0"/>
<circle cx="246.4" cy="275.1" r="3.0"/>
<circle cx="278.3" cy="283.3" r="3.0"/>
<circle cx="296.7" cy="226.2" r="3.0"/>
<circle cx="292.4" cy="229.7" r="3.0"/>
<circle cx="294.4" cy="229.7" r="3.0"/>
<circle cx="286.6" cy="232.0" r="3.0"/>
<circle cx="299.9" cy="236.0" r="3.0"/>
<circle cx="287.3" cy="249.3" r="3.0"/>
<circle cx="304.6" cy="230.5" r="3.0"/>
<circle cx="308.5" cy="229.7" r="3.0"/>
<circle cx="310.8" cy="226.6" r="3.0"/>
<circle cx="319.5" cy="228.1" r="3.0"/>
<circle cx="308.8" cy="232.0" r="3.0"/>
<circle cx="313.1" cy="232.9" r="3.0"/>
<circle cx="323.6" cy="226.8" r="3.0"/>
<circle cx="326.3" cy="228.5" r="3.0"/>
<circle cx="318.4" cy="232.0" r="3.0"/>
<circle cx="321.0" cy="233.8" r="3.0"/>
<circle cx="328.9" cy="231.1" r="3.0"/>
<circle cx="334.2" cy="231.1" r="3.0"/>
<circle cx="328.0" cy="236.4" r="3.0"/>
<circle cx="332.4" cy="237.3" r="3.0"/>
<circle cx="342.0" cy="232.0" r="3.0"/>
<circle cx="347.3" cy="228.5" r="3.0"/>
<circle cx="350.8" cy="230.3" r="3.0"/>
<circle cx="356.0" cy="224.1" r="3.0"/>
<circle cx="356.0" cy="232.0" r="3.0"/>
<circle cx="358.7" cy="231.1" r="3.0"/>
<circle cx="349.0" cy="235.5" r="3.0"/>
<circle cx="343.8" cy="238.1" r="3.0"/>
<circle cx="340.3" cy="239.9" r="3.0"/>
<circle cx="352.5" cy="239.9" r="3.0"/>
<circle cx="317.5" cy="238.1" r="3.0"/>
<circle cx="313.1" cy="239.9" r="3.0"/>
<circle cx="308.8" cy="239.0" r="3.0"/>
<circle cx="304.4" cy="239.9" r="3.0"/>
<circle cx="322.8" cy="239.9" r="3.0"/>
<circle cx="366.8" cy="227.6" r="3.0"/>
<circle cx="368.5" cy="231.1" r="3.0"/>
<circle cx="374.6" cy="227.6" r="3.0"/>
<circle cx="378.1" cy="229.4" r="3.0"/>
<circle cx="361.5" cy="233.8" r="3.0"/>
<circle cx="372.0" cy="232.0" r="3.0"/>
<circle cx="385.1" cy="228.5" r="3.0"/>
<circle cx="386.9" cy="232.0" r="3.0"/>
<circle cx="394.8" cy="219.8" r="3.0"/>
<circle cx="390.4" cy="223.3" r="3.0"/>
<circle cx="396.5" cy="228.5" r="3.0"/>
<circle cx="399.2" cy="231.1" r="3.0"/>
<circle cx="407.0" cy="230.3" r="3.0"/>
<circle cx="410.5" cy="232.0" r="3.0"/>
<circle cx="414.0" cy="227.6" r="3.0"/>
<circle cx="415.8" cy="233.8" r="3.0"/>
<circle cx="313.1" cy="279.8" r="3.0"/>
<circle cx="303.5" cy="276.8" r="3.0"/>
<circle cx="305.3" cy="281.1" r="3.0"/>
<circle cx="313.1" cy="289.0" r="3.0"/>
<circle cx="325.4" cy="285.5" r="3.0"/>
<circle cx="324.5" cy="282.0" r="3.0"/>
<circle cx="340.3" cy="286.4" r="3.0"/>
<circle cx="343.8" cy="288.1" r="3.0"/>
<circle cx="357.8" cy="285.5" r="3.0"/>
<circle cx="300.0" cy="270.6" r="3.0"/>
<circle cx="301.8" cy="275.0" r="3.0"/>
<circle cx="360.6" cy="289.0" r="3.0"/>
<circle cx="405.3" cy="288.1" r="3.0"/>
<circle cx="415.8" cy="287.3" r="3.0"/>
<circle cx="422.6" cy="237.0" r="3.0"/>
<circle cx="425.8" cy="239.0" r="3.0"/>
<circle cx="428.5" cy="241.7" r="3.0"/>
<circle cx="430.8" cy="244.4" r="3.0"/>
<circle cx="433.2" cy="246.8" r="3.0"/>
<circle cx="434.8" cy="249.9" r="3.0"/>
<circle cx="436.3" cy="253.1" r="3.0"/>
<circle cx="437.1" cy="256.2" r="3.0"/>
</g>
<g fill="#ED7D31">
<circle cx="306.4" cy="227.0" r="3.0"/>
<circle cx="333.4" cy="224.8" r="3.0"/>
<circle cx="362.9" cy="224.8" r="3.0"/>
<circle cx="392.1" cy="226.7" r="3.0"/>
<circle cx="420.5" cy="229.6" r="3.0"/>
<circle cx="479.3" cy="252.1" r="3.0"/>
<circle cx="486.1" cy="261.4" r="3.0"/>
<circle cx="485.8" cy="269.6" r="3.0"/>
<circle cx="302.8" cy="285.7" r="3.0"/>
<circle cx="329.8" cy="290.5" r="3.0"/>
<circle cx="359.1" cy="293.5" r="3.0"/>
<circle cx="388.7" cy="294.5" r="3.0"/>
<circle cx="417.0" cy="293.3" r="3.0"/>
<circle cx="442.6" cy="289.8" r="3.0"/>
<circle cx="463.1" cy="285.0" r="3.0"/>
<circle cx="265.6" cy="237.8" r="3.0"/>
<circle cx="253.7" cy="245.1" r="3.0"/>
<circle cx="249.6" cy="253.3" r="3.0"/>
<circle cx="282.9" cy="231.9" r="3.0"/>
<circle cx="445.5" cy="237.1" r="3.0"/>
<circle cx="465.2" cy="243.9" r="3.0"/>
<circle cx="477.8" cy="277.7" r="3.0"/>
<circle cx="280.6" cy="278.7" r="3.0"/>
<circle cx="252.8" cy="262.3" r="3.0"/>
<circle cx="263.7" cy="271.0" r="3.0"/>
</g>
<line x1="367.9" y1="19.77" x2="204.6" y2="354.6" stroke="#217A3A" stroke-width="2.3" stroke-dasharray="2.3 2.11"/>
<g font-family="Liberation Sans, sans-serif" font-size="9.6" fill="#595959" stroke="#595959" stroke-width="0.25" text-anchor="end">
<text transform="translate(293.1,51.80) scale(0.936,1)">$5,000.00</text>
<text transform="translate(293.1,82.50) scale(0.936,1)">$3,500.00</text>
<text transform="translate(293.1,113.20) scale(0.936,1)">$2,000.00</text>
<text transform="translate(293.1,143.90) scale(0.936,1)">$500.00</text>
<text transform="translate(293.1,174.60) scale(0.936,1)">-$1,000.00</text>
<text transform="translate(293.1,205.30) scale(0.936,1)">-$2,500.00</text>
<text transform="translate(293.1,236.00) scale(0.936,1)">-$4,000.00</text>
<text transform="translate(293.1,266.70) scale(0.936,1)">-$5,500.00</text>
<text transform="translate(293.1,297.40) scale(0.936,1)">-$7,000.00</text>
<text transform="translate(293.1,328.10) scale(0.936,1)">-$8,500.00</text>
<text transform="translate(293.1,358.80) scale(0.936,1)">-$10,000.00</text>
</g>
<g font-family="Liberation Sans, sans-serif" font-size="9.9" fill="#595959" stroke="#595959" stroke-width="0.25" text-anchor="middle">
<text transform="translate(24.50,167.8) scale(0.92,1)">-0.300</text>
<text transform="translate(117.19,167.8) scale(0.92,1)">-0.200</text>
<text transform="translate(209.88,167.8) scale(0.92,1)">-0.100</text>
<text transform="translate(302.57,167.8) scale(0.92,1)">0.000</text>
<text transform="translate(395.26,167.8) scale(0.92,1)">0.100</text>
<text transform="translate(487.95,167.8) scale(0.92,1)">0.200</text>
<text transform="translate(580.64,167.8) scale(0.92,1)">0.300</text>
<text transform="translate(673.33,167.8) scale(0.92,1)">0.400</text>
</g>
<text x="211.3" y="11.4" font-family="Liberation Sans, sans-serif" font-weight="bold" font-size="13.2" fill="#595959" stroke="#595959" stroke-width="0.2" textLength="267.3" lengthAdjust="spacingAndGlyphs">Incremental cost-effectiveness ratio plane</text>
<text x="304.0" y="381.6" font-family="Liberation Sans, sans-serif" font-weight="bold" font-size="11.8" fill="#595959" stroke="#595959" stroke-width="0.2" textLength="97.2" lengthAdjust="spacingAndGlyphs">Incremental costs</text>
<text transform="translate(10.2,191.2) rotate(-90)" x="0" y="0" font-family="Liberation Sans, sans-serif" font-weight="bold" font-size="12.1" fill="#595959" stroke="#595959" stroke-width="0.25" textLength="100.4" lengthAdjust="spacingAndGlyphs">Incremental QALYs</text>
<text x="364.6" y="50.2" font-family="Liberation Sans, sans-serif" font-weight="bold" font-size="10.9" fill="#217A3A" textLength="108.2" lengthAdjust="spacingAndGlyphs">WTP: $100,000/QALY</text>
</svg></body></html>
